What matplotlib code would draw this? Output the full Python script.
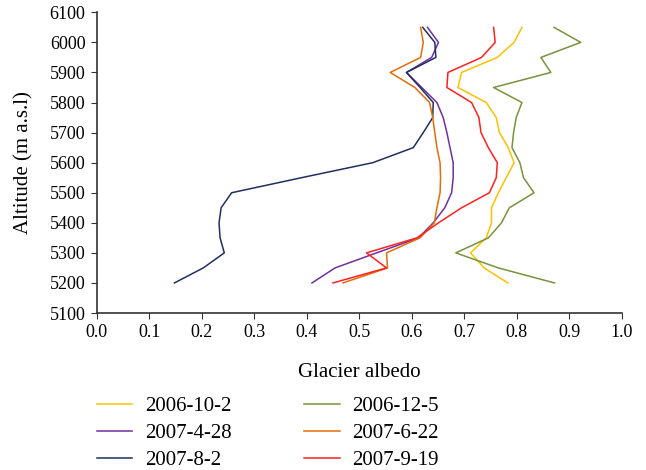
import matplotlib
matplotlib.use('Agg')
import matplotlib.pyplot as plt
import numpy as np

plt.rcParams['font.family'] = ['Liberation Serif', 'DejaVu Serif']

altitude = [6050, 6000, 5950, 5900, 5850, 5800, 5750, 5700, 5650,
            5600, 5550, 5500, 5450, 5400, 5350, 5300, 5250, 5200]

alb_2006_10_2 = [0.810, 0.795, 0.763, 0.695, 0.688, 0.742, 0.761, 0.767, 0.784,
                 0.795, 0.780, 0.765, 0.752, 0.752, 0.742, 0.712, 0.738, 0.783]
alb_2006_12_5 = [0.871, 0.922, 0.846, 0.865, 0.756, 0.810, 0.799, 0.794, 0.791,
                 0.806, 0.813, 0.833, 0.786, 0.771, 0.746, 0.684, 0.765, 0.872]
alb_2007_4_28 = [0.630, 0.651, 0.638, 0.590, 0.619, 0.648, 0.660, 0.667, 0.673,
                 0.679, 0.679, 0.676, 0.663, 0.641, 0.613, 0.533, 0.454, 0.410]
alb_2007_6_22 = [0.617, 0.622, 0.617, 0.559, 0.606, 0.634, 0.640, 0.644, 0.648,
                 0.654, 0.655, 0.654, 0.648, 0.643, 0.616, 0.552, 0.554, 0.469]
alb_2007_8_2 = [0.621, 0.644, 0.646, 0.590, 0.616, 0.641, 0.640, 0.622, 0.603,
                0.526, 0.390, 0.257, 0.237, 0.233, 0.235, 0.243, 0.203, 0.148]
alb_2007_9_19 = [0.756, 0.759, 0.733, 0.669, 0.667, 0.714, 0.728, 0.732, 0.746,
                 0.763, 0.761, 0.748, 0.695, 0.651, 0.610, 0.514, 0.552, 0.450]

# legend fills column by column, so order is col1 then col2
series = [
    ('2006-10-2', alb_2006_10_2, '#FFC000'),
    ('2007-4-28', alb_2007_4_28, '#7030A0'),
    ('2007-8-2', alb_2007_8_2, '#1F2F5E'),
    ('2006-12-5', alb_2006_12_5, '#77933C'),
    ('2007-6-22', alb_2007_6_22, '#E46C0A'),
    ('2007-9-19', alb_2007_9_19, '#FF2020'),
]

fig = plt.figure(figsize=(6.46, 4.70), dpi=100)
ax = fig.add_axes([0.1497, 0.334, 0.8127, 0.6398])

for name, vals, col in series:
    ax.plot(vals, altitude, color=col, lw=1.1, label=name)

ax.set_xlim(0, 1.0)
ax.set_ylim(5100, 6100)
ax.set_xticks(np.arange(0, 1.01, 0.1))
ax.set_xticklabels(['%.1f' % v for v in np.arange(0, 1.01, 0.1)])
ax.set_yticks(np.arange(5100, 6101, 100))
ax.tick_params(labelsize=13, direction='out', length=4, color='#333333', pad=4)
for s in ['top', 'right']:
    ax.spines[s].set_visible(False)
for s in ['left', 'bottom']:
    ax.spines[s].set_color('#333333')
    ax.spines[s].set_linewidth(1.2)

ax.set_xlabel('Glacier albedo', fontsize=15, labelpad=16)
ax.set_ylabel('Altitude (m a.s.l)', fontsize=15, labelpad=12)

fig.legend(loc='upper left', bbox_to_anchor=(0.150, 0.157), ncol=2,
           frameon=False, fontsize=15, handlelength=1.7, handletextpad=0.6,
           columnspacing=3.5, labelspacing=0.36, borderpad=0, borderaxespad=0,
           bbox_transform=fig.transFigure)

fig.savefig('out.png', dpi=100)
